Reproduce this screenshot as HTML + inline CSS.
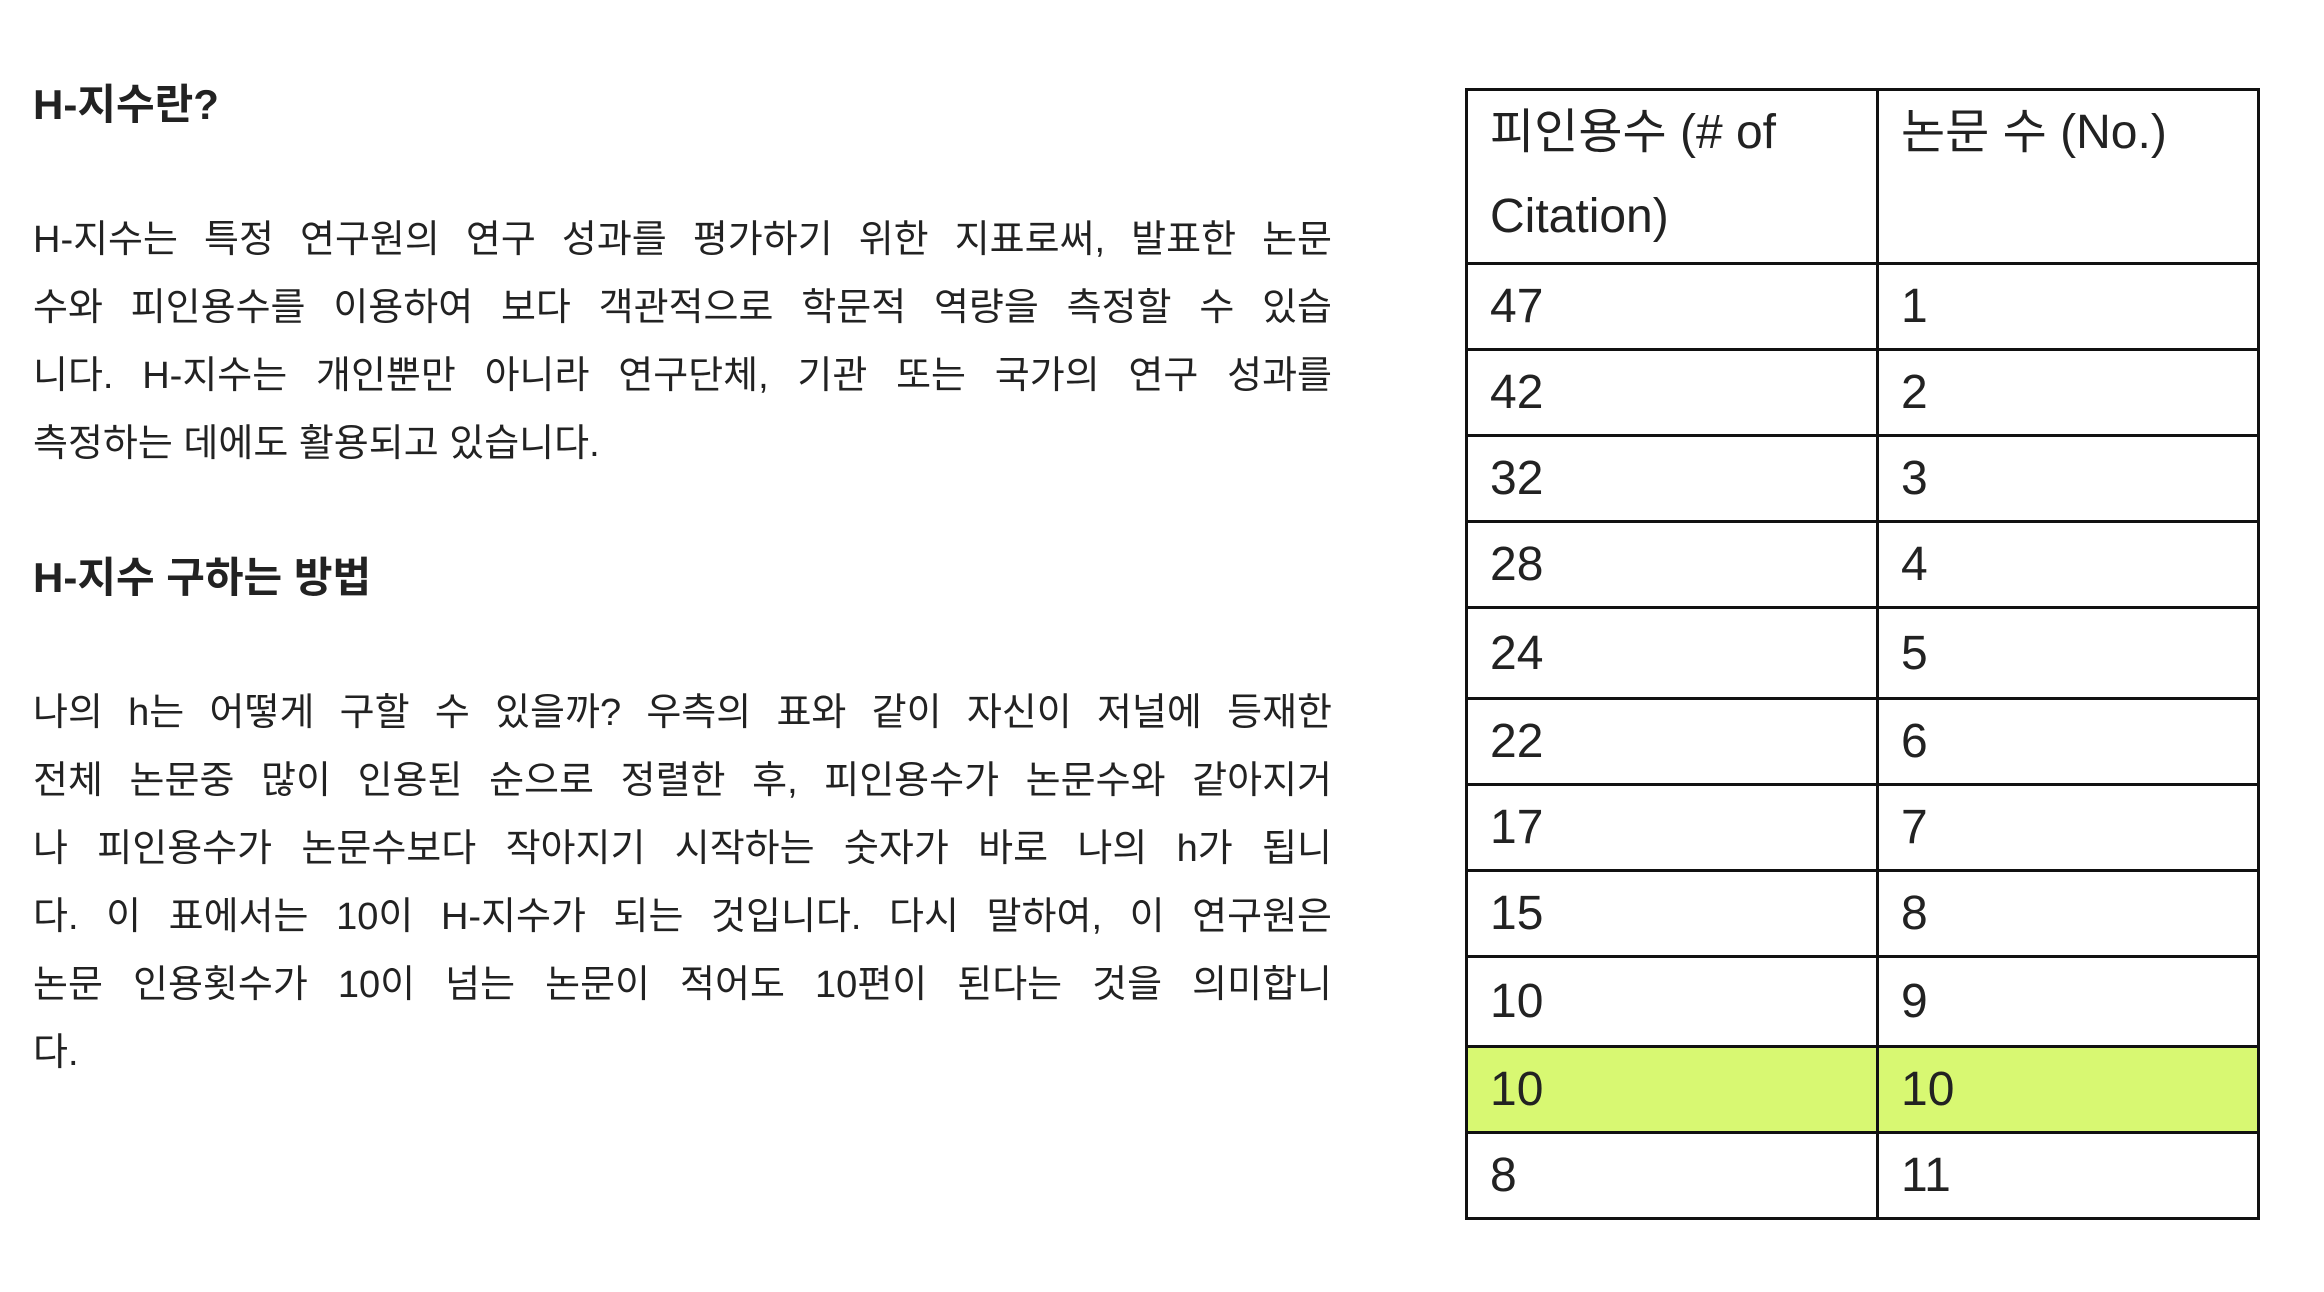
<!DOCTYPE html>
<html><head><meta charset="utf-8"><style>
body{margin:0;width:2324px;height:1292px;background:#fff;position:relative;overflow:hidden;font-family:"Liberation Sans","Noto Sans CJK KR",sans-serif;color:#222}
.h{position:absolute;left:33px;font-weight:bold;font-size:42px;line-height:60px;color:#222}
.l{position:absolute;left:33px;width:1299px;font-size:38px;line-height:68px;text-align:justify;text-align-last:justify;white-space:nowrap;overflow:visible}
.l.last{text-align-last:left}
table{position:absolute;left:1465px;top:88px;width:792px;border-collapse:collapse;table-layout:fixed;font-family:"Liberation Sans","Noto Sans CJK KR",sans-serif;font-size:48px;color:#222}
td{border:3px solid #111;padding:0 0 0 22px;vertical-align:middle;height:83px}
tr.hd td{height:171px;vertical-align:top;line-height:84px;padding-top:0}
tr.g td{background:#d8f872}
</style></head><body>
<div class="h" style="top:75px">H-지수란?</div>
<div class="l" style="top:206px">H-지수는 특정 연구원의 연구 성과를 평가하기 위한 지표로써, 발표한 논문</div>
<div class="l" style="top:274px">수와 피인용수를 이용하여 보다 객관적으로 학문적 역량을 측정할 수 있습</div>
<div class="l" style="top:342px">니다. H-지수는 개인뿐만 아니라 연구단체, 기관 또는 국가의 연구 성과를</div>
<div class="l last" style="top:410px">측정하는 데에도 활용되고 있습니다.</div>
<div class="h" style="top:548px">H-지수 구하는 방법</div>
<div class="l" style="top:679px">나의 h는 어떻게 구할 수 있을까? 우측의 표와 같이 자신이 저널에 등재한</div>
<div class="l" style="top:747px">전체 논문중 많이 인용된 순으로 정렬한 후, 피인용수가 논문수와 같아지거</div>
<div class="l" style="top:815px">나 피인용수가 논문수보다 작아지기 시작하는 숫자가 바로 나의 h가 됩니</div>
<div class="l" style="top:883px">다. 이 표에서는 10이 H-지수가 되는 것입니다. 다시 말하여, 이 연구원은</div>
<div class="l" style="top:951px">논문 인용횟수가 10이 넘는 논문이 적어도 10편이 된다는 것을 의미합니</div>
<div class="l last" style="top:1019px">다.</div>
<table>
<colgroup><col style="width:411px"><col style="width:381px"></colgroup>
<tr class="hd"><td>피인용수 (# of Citation)</td><td>논문 수 (No.)</td></tr>
<tr><td>47</td><td>1</td></tr>
<tr><td>42</td><td>2</td></tr>
<tr><td>32</td><td>3</td></tr>
<tr><td>28</td><td>4</td></tr>
<tr><td style="height:88px">24</td><td>5</td></tr>
<tr><td>22</td><td>6</td></tr>
<tr><td>17</td><td>7</td></tr>
<tr><td>15</td><td>8</td></tr>
<tr><td style="height:87px">10</td><td>9</td></tr>
<tr class="g"><td>10</td><td>10</td></tr>
<tr><td style="height:78px">8</td><td>11</td></tr>
</table>
</body></html>
